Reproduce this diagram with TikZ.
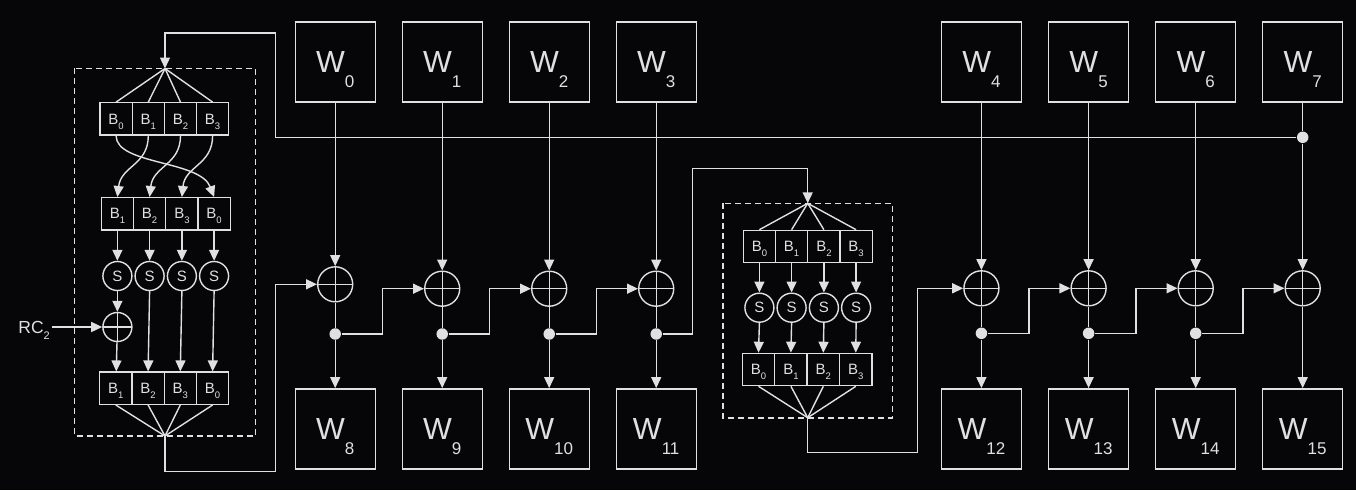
\documentclass[tikz,border=0pt]{standalone}
\usepackage{fontspec}
\setmainfont{Liberation Sans}
\usetikzlibrary{arrows.meta}
\definecolor{bgc}{HTML}{060608}
\definecolor{fgc}{HTML}{E0E0E0}
\newcommand\wlab[1]{\fontsize{30.5}{30.5}\selectfont W\raisebox{-15pt}[0pt][0pt]{\fontsize{17}{17}\selectfont #1}}
\newcommand\blab[1]{\fontsize{15}{15}\selectfont B\raisebox{-5pt}[0pt][0pt]{\fontsize{9.5}{9.5}\selectfont #1}}
\tikzset{
  arr/.style={-{Triangle[length=11pt,width=10pt]}},
  wbox/.style={draw, minimum width=80pt, minimum height=80pt, inner sep=0pt, line width=1.4pt},
  bc/.style={draw, minimum width=32.3pt, minimum height=32.3pt, inner sep=0pt, line width=1.3pt},
  sc/.style={circle, draw, minimum size=29pt, inner sep=0pt, font=\fontsize{15}{15}\selectfont},
  xr/.style={circle, draw, minimum size=35pt, inner sep=0pt,
    path picture={\draw (path picture bounding box.north) -- (path picture bounding box.south)
      (path picture bounding box.west) -- (path picture bounding box.east);}},
  xs/.style={xr, minimum size=29pt},
  dt/.style={circle, fill, minimum size=11.5pt, inner sep=0pt},
  dsh/.style={dash pattern=on 6pt off 4pt, line width=1.6pt}
}
\begin{document}
\begin{tikzpicture}[x=1pt,y=-1pt,line width=1.4pt,color=fgc]
\useasboundingbox (0,0) rectangle (1356,490);
\fill[bgc] (0,0) rectangle (1356,490);

% W boxes
\foreach \i/\x in {0/335.2,1/442.2,2/549.2,3/656.2,4/981.4,5/1088.6,6/1195.7,7/1302.7}
  \node[wbox] (W\i) at (\x,62) {\wlab{\i}};
\foreach \i/\x in {8/335.2,9/442.2,10/549.2,11/656.2,12/981.4,13/1088.6,14/1195.7,15/1302.7}
  \node[wbox] (W\i) at (\x,428.8) {\wlab{\i}};

% XORs
\node[xr] (x0) at (335.2,284.3) {};
\foreach \i/\x in {1/442.2,2/549.2,3/656.2}
  \node[xr] (x\i) at (\x,288.7) {};
\foreach \i/\x in {4/981.4,5/1088.6,6/1195.7,7/1302.7}
  \node[xr] (x\i) at (\x,288.3) {};

% dots
\foreach \i/\x in {0/335.2,1/442.2,2/549.2,3/656.2}
  \node[dt] (d\i) at (\x,334) {};
\foreach \i/\x in {4/981.4,5/1088.6,6/1195.7}
  \node[dt] (d\i) at (\x,333.3) {};
\node[dt] (d7) at (1302.7,137.3) {};

% vertical connectors
\foreach \i in {0,...,6} \draw[arr] (W\i) -- (x\i);
\draw (W7) -- (d7);
\draw[arr] (d7) -- (x7);
\foreach \i/\j in {0/8,1/9,2/10,3/11,4/12,5/13,6/14} {
  \draw (x\i) -- (d\i);
  \draw[arr] (d\i) -- (W\j);
}
\draw[arr] (x7) -- (W15);

% chain
\coordinate (j0) at (382.7,334);
\coordinate (j1) at (489.7,334);
\coordinate (j2) at (596.7,334);
\coordinate (j4) at (1029,333.3);
\coordinate (j5) at (1136,333.3);
\coordinate (j6) at (1243,333.3);
\draw[arr] (d0) -- (j0) |- (x1);
\draw[arr] (d1) -- (j1) |- (x2);
\draw[arr] (d2) -- (j2) |- (x3);
\draw[arr] (d4) -- (j4) |- (x5);
\draw[arr] (d5) -- (j5) |- (x6);
\draw[arr] (d6) -- (j6) |- (x7);

% ---------- left block ----------
\draw[dsh] (74.3,68.3) rectangle (255.3,436);
\coordinate (aT) at (165,68.5);
\coordinate (aB) at (165,436);
\foreach \i/\x/\l in {0/116.1/0,1/148.3/1,2/180.5/2,3/212.6/3}
  \node[bc] (ta\i) at (\x,118.9) {\blab{\l}};
\foreach \i/\x/\l in {0/117.4/1,1/149.6/2,2/181.9/3,3/214.1/0}
  \node[bc] (tb\i) at (\x,213.8) {\blab{\l}};
\foreach \i/\x in {0/117.4,1/149.6,2/181.9,3/214.1}
  \node[sc] (sa\i) at (\x,276) {S};
\foreach \i/\x/\l in {0/115.8/1,1/148.1/2,2/180.3/3,3/212.6/0}
  \node[bc] (tc\i) at (\x,388.2) {\blab{\l}};
\node[xs] (xl) at (117.4,327) {};
\node[inner sep=1pt, anchor=east] (rc) at (51.5,327)
  {\fontsize{17.5}{17.5}\selectfont RC\raisebox{-6.5pt}[0pt][0pt]{\fontsize{11}{11}\selectfont 2}};

\foreach \i in {0,...,3} \draw (aT) -- (ta\i.north);
\draw[arr] (ta0.south) .. controls (116.1,165) and (200,160) .. (tb3.north);
\draw[arr] (ta1.south) .. controls (148.3,165) and (121,166) .. (tb0.north);
\draw[arr] (ta2.south) .. controls (180.5,165) and (153,166) .. (tb1.north);
\draw[arr] (ta3.south) .. controls (212.6,165) and (185,166) .. (tb2.north);
\foreach \i in {0,...,3} \draw[arr] (tb\i) -- (sa\i);
\draw[arr] (sa0) -- (xl);
\draw[arr] (xl) -- (tc0);
\foreach \i in {1,2,3} \draw[arr] (sa\i.south) -- (tc\i.north);
\draw[arr] (rc) -- (xl);
\foreach \i in {0,...,3} \draw (tc\i.south) -- (aB);

% feedback from W7 to left block
\coordinate (c2) at (275.3,137.3);
\coordinate (c3) at (165,33);
\draw[arr] (d7) -- (c2) |- (c3) -- (aT);
% left block to x0
\coordinate (c1) at (275.3,471.7);
\draw[arr] (aB) |- (c1) |- (x0);

% ---------- middle block ----------
\draw[dsh] (722.7,203.3) rectangle (892.3,417.7);
\coordinate (aM) at (807.7,203.3);
\coordinate (aMB) at (807.7,417.7);
\foreach \i/\x in {0/759.4,1/791.6,2/823.9,3/856.1}
  \node[bc] (tm\i) at (\x,246.5) {\blab{\i}};
\foreach \i/\x in {0/759.4,1/791.6,2/823.9,3/856.1}
  \node[sc] (sm\i) at (\x,307.7) {S};
\foreach \i/\x in {0/758.5,1/790.9,2/823.3,3/855.8}
  \node[bc] (bm\i) at (\x,369.5) {\blab{\i}};
\foreach \i in {0,...,3} {
  \draw (aM) -- (tm\i.north);
  \draw[arr] (tm\i.south) -- (sm\i.north);
  \draw[arr] (sm\i.south) -- (bm\i.north);
  \draw (bm\i.south) -- (aMB);
}
\coordinate (c4) at (692.7,334);
\coordinate (c5) at (807.7,168.3);
\draw[arr] (d3) -- (c4) |- (c5) -- (aM);
\coordinate (c6) at (917.3,452.7);
\draw[arr] (aMB) |- (c6) |- (x4);
\end{tikzpicture}
\end{document}
